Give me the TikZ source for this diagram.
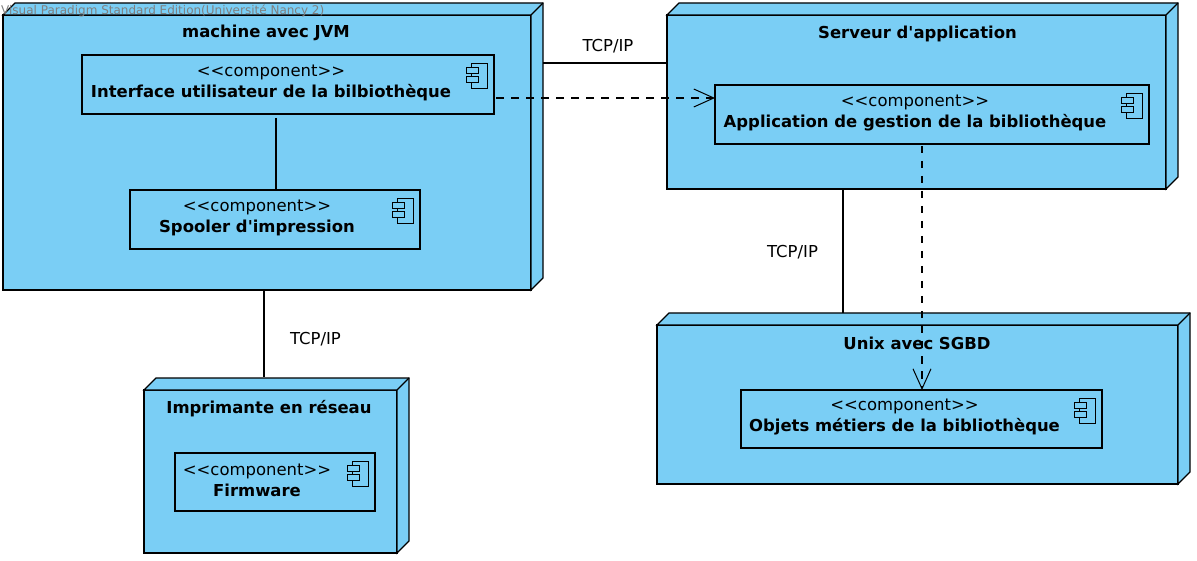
\documentclass[tikz,border=0pt]{standalone}
\usepackage{fontspec}
\usepackage{tikz}
\usetikzlibrary{arrows.meta,positioning,calc}
\usepackage{xcolor}
\newfontfamily\umlfont{DejaVu Sans}
\definecolor{nodefill}{RGB}{122,206,245}
\tikzset{
  depnode/.style={rectangle,draw,fill=nodefill,line width=1.2pt,inner sep=0pt,outer sep=0pt},
  component/.style={rectangle,draw,line width=1.2pt,inner sep=0pt,outer sep=0pt},
  compicon/.style={draw,fill=nodefill,line width=0.9pt},
  comptext/.style={align=center,inner sep=0pt,font=\umlfont\fontsize{16.45}{21}\selectfont},
  nodetitle/.style={inner sep=0pt,font=\umlfont\bfseries\fontsize{16.45}{18}\selectfont},
  wirelabel/.style={inner sep=0pt,font=\umlfont\fontsize{16.45}{18}\selectfont},
  watermark/.style={inner sep=0pt,text=black!50,font=\umlfont\fontsize{12}{14}\selectfont}
}
\begin{document}
\begin{tikzpicture}[x=1pt,y=-1pt,
  wire/.style={line width=1.2pt},
  dep/.style={line width=1.2pt,dash pattern=on 7.5pt off 7.5pt,-{Straight Barb[length=20pt,width=18pt,line width=1pt]}}
]
  \useasboundingbox (0,0) rectangle (1197,561);

  % --- Deployment nodes (front face) ---
  \node[depnode,minimum width=528,minimum height=275] (machine)    at (267,  152.5) {};
  \node[depnode,minimum width=499,minimum height=174] (serveur)    at (916.5,102)   {};
  \node[depnode,minimum width=521,minimum height=159] (unix)       at (917.5,404.5) {};
  \node[depnode,minimum width=253,minimum height=163] (imprimante) at (270.5,471.5) {};

  % --- Top and side faces ---
  \foreach \n in {machine,serveur,unix,imprimante} {
    \draw[depnode] (\n.north west) -- ([shift={(12,-12)}]\n.north west)
      -- ([shift={(12,-12)}]\n.north east) -- ([shift={(12,-12)}]\n.south east)
      -- (\n.south east) -- (\n.north east) -- cycle;
    \draw[depnode] (\n.north east) -- ([shift={(12,-12)}]\n.north east);
  }

  % --- Node titles ---
  \node[nodetitle] (machineT)    at (266,32.5)  {machine avec JVM};
  \node[nodetitle] (serveurT)    at (917.5,33.5) {Serveur d'application};
  \node[nodetitle] (unixT)       at (917,343.5) {Unix avec SGBD};
  \node[nodetitle] (imprimanteT) at (269,408.5) {Imprimante en réseau};

  % --- Components ---
  \node[component,minimum width=412,minimum height=59] (iface)    at (288,84.5)    {};
  \node[component,minimum width=290,minimum height=59] (spooler)  at (275,219.5)   {};
  \node[component,minimum width=434,minimum height=59] (appli)    at (932,114.5)   {};
  \node[component,minimum width=361,minimum height=58] (objets)   at (921.5,419)   {};
  \node[component,minimum width=200,minimum height=58] (firmware) at (275,482)     {};

  \node[comptext] (ifaceT)    at (271,83)    {<<component>>\\\textbf{Interface utilisateur de la bilbiothèque}};
  \node[comptext] (spoolerT)  at (257,218)   {<<component>>\\\textbf{Spooler d'impression}};
  \node[comptext] (appliT)    at (915,113)   {<<component>>\\\textbf{Application de gestion de la bibliothèque}};
  \node[comptext] (objetsT)   at (904.5,417) {<<component>>\\\textbf{Objets métiers de la bibliothèque}};
  \node[comptext] (firmwareT) at (257,480)   {<<component>>\\\textbf{Firmware}};

  % --- Component icons ---
  \foreach \c in {iface,spooler,appli,objets,firmware} {
    \begin{scope}[shift={(\c.north east)}]
      \draw[compicon] (-23,8) rectangle (-7,33);
      \draw[compicon] (-28,12.5) rectangle (-16,18.5);
      \draw[compicon] (-28,21) rectangle (-16,27);
    \end{scope}
  }

  % --- Connectors ---
  \coordinate (machineport) at (543,63);
  \draw[wire] (machineport) -- (machineport -| serveur.west);
  \draw[wire] ([shift={(-12,4)}]iface.south) -- ([shift={(1,0)}]spooler.north);
  \draw[wire] ([shift={(-3,0)}]machine.south) -- ([shift={(-6.5,-13)}]imprimante.north);
  \draw[wire] ([shift={(-73.5,0)}]serveur.south) -- ([shift={(-74.5,-12)}]unix.north);
  \node[wirelabel] (tcpA) at (608,46)    {TCP/IP};
  \node[wirelabel] (tcpB) at (792.5,252) {TCP/IP};
  \node[wirelabel] (tcpC) at (315.5,339) {TCP/IP};

  % --- Dependencies ---
  \coordinate (ifaceport) at (496,98);
  \coordinate (appliport) at (922,146);
  \draw[dep] (ifaceport) -- (ifaceport -| appli.west);
  \draw[dep] (appliport) -- (appliport |- objets.north);

  \node[watermark,anchor=west] (vp) at (1,11) {Visual Paradigm Standard Edition(Université Nancy 2)};
\end{tikzpicture}
\end{document}
